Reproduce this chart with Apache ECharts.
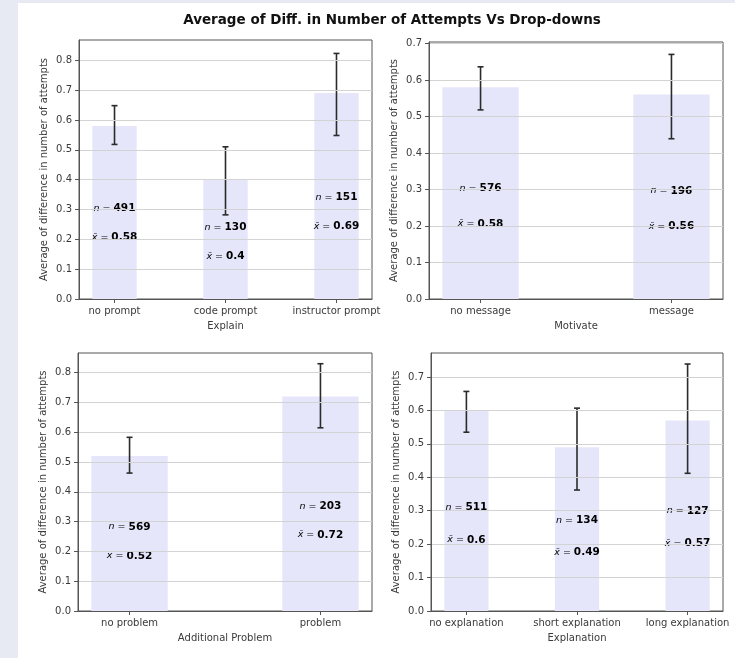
<!DOCTYPE html>
<html>
<head>
<meta charset="utf-8">
<script src="https://cdn.jsdelivr.net/npm/echarts@6/dist/echarts.min.js"></script>
<style>
  html, body { margin: 0; padding: 0; }
  body { width: 735px; height: 658px; background: #e7eaf3; position: relative; overflow: hidden; }
  #card { position: absolute; left: 18px; top: 3px; right: 0; bottom: 0; background: #ffffff; }
  #chart { position: absolute; left: 0; top: 0; width: 735px; height: 658px; }
</style>
</head>
<body>
<div id="card"></div>
<div id="chart"></div>
<script>
// Explain drop-down
const explainCats = ['no prompt', 'code prompt', 'instructor prompt'];
const explainMean = [0.58, 0.4, 0.69];
const explainLow  = [0.518, 0.282, 0.548];
const explainHigh = [0.648, 0.510, 0.823];
const explainN    = [491, 130, 151];

// Motivate drop-down
const motivateCats = ['no message', 'message'];
const motivateMean = [0.58, 0.56];
const motivateLow  = [0.518, 0.439];
const motivateHigh = [0.636, 0.670];
const motivateN    = [576, 196];

// Additional Problem drop-down
const problemCats = ['no problem', 'problem'];
const problemMean = [0.52, 0.72];
const problemLow  = [0.463, 0.615];
const problemHigh = [0.583, 0.830];
const problemN    = [569, 203];

// Explanation drop-down
const explanationCats = ['no explanation', 'short explanation', 'long explanation'];
const explanationMean = [0.6, 0.49, 0.57];
const explanationLow  = [0.535, 0.362, 0.412];
const explanationHigh = [0.657, 0.607, 0.739];
const explanationN    = [511, 134, 127];

const yTicksWide = [0, 0.1, 0.2, 0.3, 0.4, 0.5, 0.6, 0.7, 0.8];
const yTicksNarrow = [0, 0.1, 0.2, 0.3, 0.4, 0.5, 0.6, 0.7];

const FONT = 'DejaVu Sans';
const TEXT = '#3a3a3a';
const FRAME = '#555555';
const BAR = '#e6e6fa';
const ERR = '#2b2b2b';

const panels = [
  { cats: explainCats, mean: explainMean, lo: explainLow, hi: explainHigh, n: explainN,
    name: 'Explain', grid: { left: 79, top: 40, width: 293, height: 259 }, ymax: 0.868, yTicks: yTicksWide },
  { cats: motivateCats, mean: motivateMean, lo: motivateLow, hi: motivateHigh, n: motivateN,
    name: 'Motivate', grid: { left: 429, top: 42, width: 294, height: 257 }, ymax: 0.704, yTicks: yTicksNarrow },
  { cats: problemCats, mean: problemMean, lo: problemLow, hi: problemHigh, n: problemN,
    name: 'Additional Problem', grid: { left: 78, top: 353, width: 294, height: 258 }, ymax: 0.866, yTicks: yTicksWide },
  { cats: explanationCats, mean: explanationMean, lo: explanationLow, hi: explanationHigh, n: explanationN,
    name: 'Explanation', grid: { left: 431, top: 353, width: 292, height: 258 }, ymax: 0.772, yTicks: yTicksNarrow }
];

const grids = [], xAxes = [], yAxes = [], series = [];

panels.forEach((p, k) => {
  const count = p.cats.length;
  const pad = count === 3 ? 0.32 : 0.27;
  const idx = p.cats.map((_, i) => i);

  grids.push(Object.assign({ show: true, borderColor: FRAME, borderWidth: 1, backgroundColor: '#ffffff' }, p.grid));

  xAxes.push({
    type: 'value', gridIndex: k, min: -pad, max: count - 1 + pad, z: 5,
    name: p.name, nameLocation: 'middle', nameGap: 22,
    nameTextStyle: { fontFamily: FONT, fontSize: 10, color: TEXT },
    axisLine: { show: true, onZero: false, lineStyle: { color: FRAME, width: 1 } },
    axisTick: { show: true, customValues: idx, length: 4, lineStyle: { color: FRAME } },
    axisLabel: { customValues: idx, margin: 7, fontFamily: FONT, fontSize: 10, color: TEXT,
                 formatter: v => p.cats[Math.round(v)] },
    splitLine: { show: false }
  });

  yAxes.push({
    type: 'value', gridIndex: k, min: 0, max: p.ymax, interval: 0.1, z: 5,
    name: 'Average of difference in number of attempts', nameLocation: 'middle', nameGap: 30,
    nameTextStyle: { fontFamily: FONT, fontSize: 10, color: TEXT },
    axisLine: { show: true, onZero: false, lineStyle: { color: FRAME, width: 1 } },
    axisTick: { show: true, customValues: p.yTicks, length: 4, lineStyle: { color: FRAME } },
    axisLabel: { customValues: p.yTicks, margin: 7, fontFamily: FONT, fontSize: 10, color: TEXT,
                 formatter: v => v.toFixed(1) },
    splitLine: { show: true, lineStyle: { color: '#d3d3d3', width: 1 } }
  });

  const rows = idx.map(i => [i, p.mean[i], p.lo[i], p.hi[i], p.n[i]]);

  // bars
  series.push({
    type: 'custom', xAxisIndex: k, yAxisIndex: k, z: 2,
    encode: { x: 0, y: 1 },
    data: rows,
    renderItem: (params, api) => {
      const i = api.value(0), m = api.value(1);
      const a = api.coord([i - 0.2, m]);
      const b = api.coord([i + 0.2, 0]);
      return { type: 'rect', shape: { x: a[0], y: a[1], width: b[0] - a[0], height: b[1] - a[1] },
               style: { fill: BAR } };
    }
  });

  // error bars
  series.push({
    type: 'custom', xAxisIndex: k, yAxisIndex: k, z: 4,
    encode: { x: 0, y: [2, 3] },
    data: rows,
    renderItem: (params, api) => {
      const i = api.value(0);
      const top = api.coord([i, api.value(3)]);
      const bot = api.coord([i, api.value(2)]);
      const st = { stroke: ERR, lineWidth: 1.6 };
      const cap = 3;
      return { type: 'group', children: [
        { type: 'line', shape: { x1: top[0], y1: top[1], x2: bot[0], y2: bot[1] }, style: st },
        { type: 'line', shape: { x1: top[0] - cap, y1: top[1], x2: top[0] + cap, y2: top[1] }, style: st },
        { type: 'line', shape: { x1: bot[0] - cap, y1: bot[1], x2: bot[0] + cap, y2: bot[1] }, style: st }
      ]};
    }
  });

  // sample size and mean annotations
  series.push({
    type: 'custom', xAxisIndex: k, yAxisIndex: k, z: 3,
    encode: { x: 0, y: 1 },
    data: rows,
    renderItem: (params, api) => {
      const i = api.value(0), m = api.value(1), n = api.value(4);
      const pn = api.coord([i, m * 0.35 + 0.1]);
      const px = api.coord([i, m * 0.35 + 0.003]);
      const rich = {
        i: { fontFamily: FONT, fontStyle: 'italic', fontSize: 9.5, color: '#3c3c3c' },
        e: { fontFamily: FONT, fontSize: 9.5, color: '#3c3c3c' },
        b: { fontFamily: FONT, fontWeight: 'bold', fontSize: 10.5, color: '#141414' }
      };
      return { type: 'group', children: [
        { type: 'text', x: pn[0], y: pn[1],
          style: { text: '{i|n}{e| = }{b|' + n + '}', rich: rich, align: 'center', verticalAlign: 'middle' } },
        { type: 'text', x: px[0], y: px[1],
          style: { text: '{i|x\u0304}{e| = }{b|' + String(m) + '}', rich: rich, align: 'center', verticalAlign: 'middle' } }
      ]};
    }
  });
});

const chart = echarts.init(document.getElementById('chart'), null, { renderer: 'canvas' });
chart.setOption({
  backgroundColor: 'transparent',
  animation: false,
  title: {
    text: 'Average of Diff. in Number of Attempts Vs Drop-downs',
    left: 387, top: 8, textAlign: 'center',
    textStyle: { fontFamily: FONT, fontWeight: 'bold', fontSize: 13.5, color: '#111111' }
  },
  grid: grids,
  xAxis: xAxes,
  yAxis: yAxes,
  series: series
});
</script>
</body>
</html>
